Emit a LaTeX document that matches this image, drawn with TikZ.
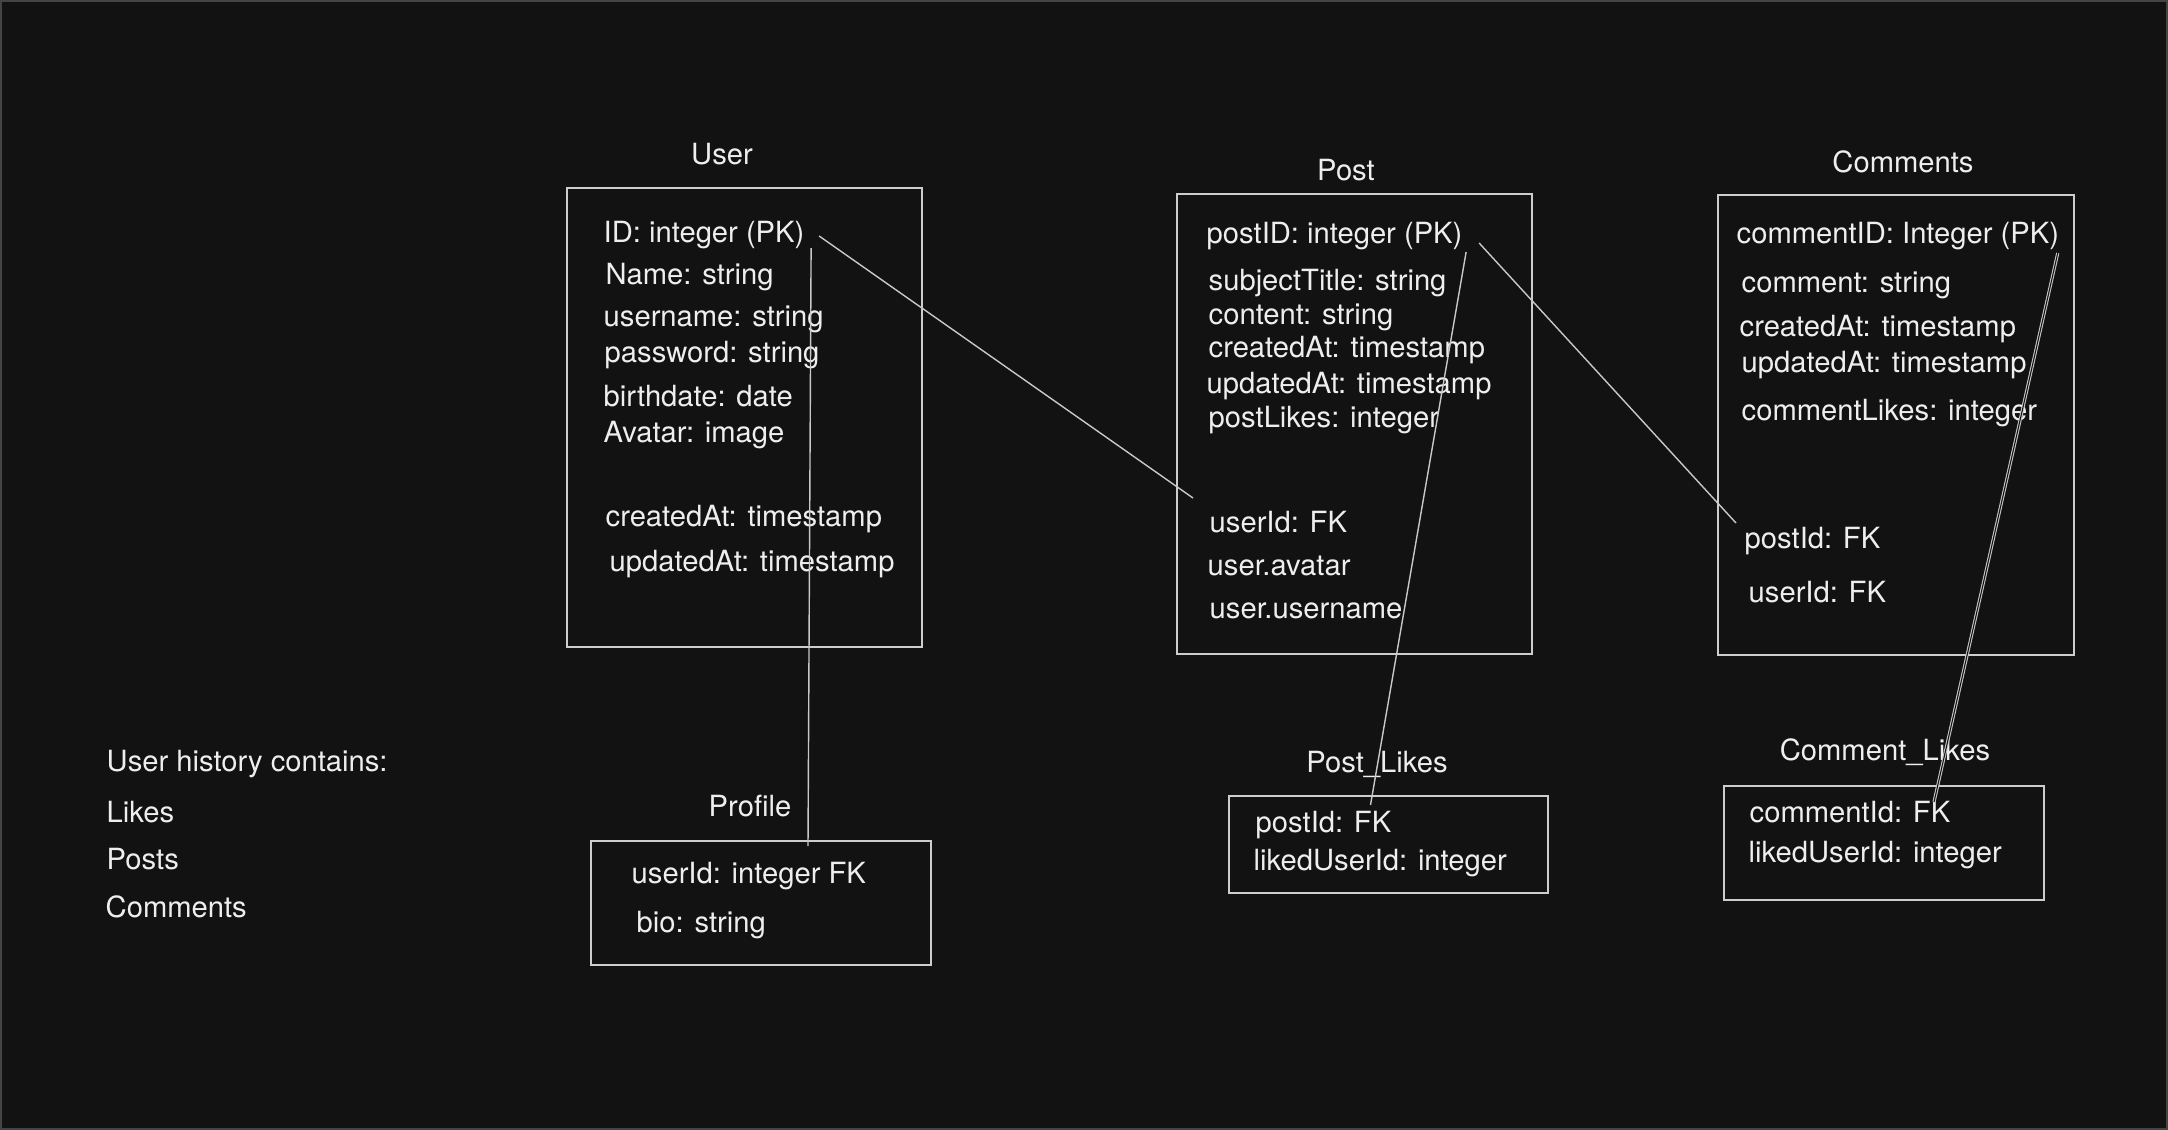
\documentclass[tikz,border=0pt]{standalone}
\usepackage{fontspec}
\setmainfont{TeX Gyre Heros}
\usetikzlibrary{calc}
\definecolor{canvas}{HTML}{121212}
\definecolor{frame}{HTML}{444444}
\definecolor{ink}{HTML}{EEEEEE}
\definecolor{wire}{HTML}{C8C8C8}
\begin{document}
\begin{tikzpicture}[x=0.01cm,y=-0.01cm,
    field/.style={anchor=base west,inner sep=0pt,text=ink,font=\fontsize{8.3}{10}\selectfont},
    heading/.style={anchor=base,inner sep=0pt,text=ink,font=\fontsize{8.3}{10}\selectfont},
    entity/.style={draw=ink!85!canvas,line width=0.55pt,inner sep=0pt},
    relation/.style={draw=wire,line width=0.4pt}]
\useasboundingbox (0,0) rectangle (2168,1130);
\path[fill=canvas,draw=frame,line width=0.6pt] (1,1) rectangle (2167,1129);

% User
\node[heading] (userT) at (722,164) {User};
\node[entity,minimum width=3.55cm,minimum height=4.59cm] (user) at (744.5,417.5) {};
\node[field] (uid)       at (603,242) {ID: integer (PK)};
\node[field] (uname)     at (605,284) {Name: string};
\node[field] (uusername) at (603,326) {username: string};
\node[field] (upass)     at (604,362) {password: string};
\node[field] (ubirth)    at (603,406) {birthdate: date};
\node[field] (uavatar)   at (603,442) {Avatar: image};
\node[field] (ucreated)  at (605,526) {createdAt: timestamp};
\node[field] (uupdated)  at (609,571) {updatedAt: timestamp};

% Post
\node[heading] (postT) at (1346,180) {Post};
\node[entity,minimum width=3.55cm,minimum height=4.60cm] (post) at (1354.5,424) {};
\node[field] (ppk)        at (1206,243) {postID: integer (PK)};
\node[field] (psubject)   at (1208,290) {subjectTitle: string};
\node[field] (pcontent)   at (1208,324) {content: string};
\node[field] (pcreated)   at (1208,357) {createdAt: timestamp};
\node[field] (pupdated)   at (1206,393) {updatedAt: timestamp};
\node[field] (plikecount) at (1208,427) {postLikes: integer};
\node[field] (puserid)    at (1209,532) {userId: FK};
\node[field] (pavatar)    at (1207,575) {user.avatar};
\node[field] (pusername)  at (1209,618) {user.username};

% Comments
\node[heading] (commentsT) at (1903,172) {Comments};
\node[entity,minimum width=3.56cm,minimum height=4.60cm] (comments) at (1896,425) {};
\node[field] (cpk)        at (1736,243) {commentID: Integer (PK)};
\node[field] (ccomment)   at (1741,292) {comment: string};
\node[field] (ccreated)   at (1739,336) {createdAt: timestamp};
\node[field] (cupdated)   at (1741,372) {updatedAt: timestamp};
\node[field] (clikecount) at (1741,420) {commentLikes: integer};
\node[field] (cpostid)    at (1744,548) {postId: FK};
\node[field] (cuserid)    at (1748,602) {userId: FK};

% Profile
\node[heading] (profileT) at (750,816) {Profile};
\node[entity,minimum width=3.40cm,minimum height=1.24cm] (profile) at (761,903) {};
\node[field] (fuserid) at (631,883) {userId: integer FK};
\node[field] (fbio)    at (636,932) {bio: string};

% Post_Likes
\node[heading] (plikesT) at (1377,772) {Post\_Likes};
\node[entity,minimum width=3.19cm,minimum height=0.97cm] (plikes) at (1388.5,844.5) {};
\node[field] (lpostid) at (1255,832) {postId: FK};
\node[field] (lliker)  at (1253,870) {likedUserId: integer};

% Comment_Likes
\node[heading] (clikesT) at (1885,760) {Comment\_Likes};
\node[entity,minimum width=3.20cm,minimum height=1.14cm] (clikes) at (1884,843) {};
\node[field] (mcommentid) at (1749,822) {commentId: FK};
\node[field] (mliker)     at (1748,862) {likedUserId: integer};

% history note
\node[field] (hist)      at (106,771) {User history contains:};
\node[field] (hlikes)    at (106,822) {Likes};
\node[field] (hposts)    at (106,869) {Posts};
\node[field] (hcomments) at (105,917) {Comments};

\path ($(uid.base east)+(14,-6)$)  edge[relation] ($(puserid.base west)+(-16,-34)$)
      ($(uid.base east)+(6,6)$)    edge[relation] ($(profile.north)+(47,6)$)
      ($(ppk.base east)+(16,0)$)   edge[relation] ($(cpostid.base west)+(-8,-25)$)
      ($(ppk.base east)+(3,9)$)    edge[relation] ($(plikes.north)+(-18,10)$)
      ($(cpk.base east)+(-2,10)$)  edge[relation,double=canvas,line width=0.3pt,double distance=0.3pt] ($(clikes.north)+(50,17)$);
\end{tikzpicture}
\end{document}
